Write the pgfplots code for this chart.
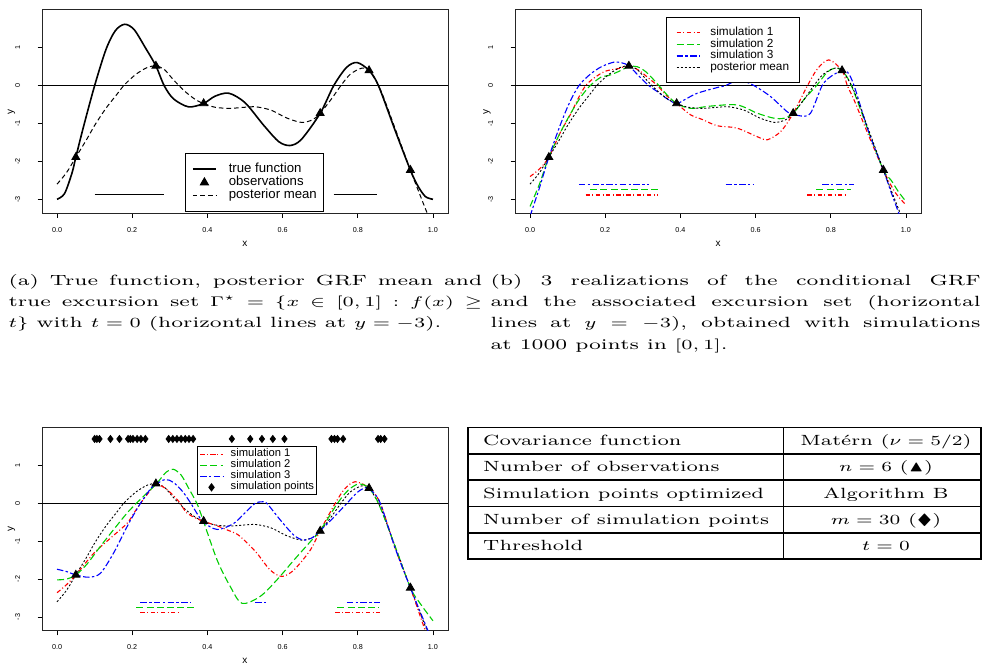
\documentclass[border=0pt]{standalone}
\usepackage{pgfplots}
\pgfplotsset{compat=1.18}
\usepackage{pgfplotstable}
\usepackage{amssymb}
\usepackage{graphicx}
\usepackage{fontspec}
\newfontfamily\rfont{Liberation Sans}
\definecolor{rred}{HTML}{FF0000}
\definecolor{rgreen}{HTML}{00CD00}
\definecolor{rblue}{HTML}{0000FF}

% shared series
\pgfplotstableread{
x y
0 -3.0
0.02 -2.85
0.04 -2.3
0.05 -1.89
0.07 -1.1
0.1 0.0
0.13 0.95
0.155 1.45
0.18 1.62
0.205 1.48
0.235 1.0
0.263 0.52
0.285 0.0
0.31 -0.35
0.35 -0.56
0.39 -0.47
0.42 -0.28
0.457 -0.2
0.5 -0.45
0.55 -1.05
0.59 -1.48
0.62 -1.58
0.65 -1.42
0.7 -0.73
0.736 0.0
0.77 0.48
0.798 0.61
0.83 0.4
0.855 0.0
0.9 -1.2
0.94 -2.23
0.96 -2.65
0.98 -2.93
1.0 -3.0
}\truetab

\pgfplotstableread{
x y
0 -2.6
0.025 -2.3
0.05 -1.89
0.08 -1.4
0.1 -1.05
0.13 -0.6
0.16 -0.22
0.18 0.03
0.21 0.3
0.24 0.48
0.263 0.52
0.285 0.43
0.31 0.15
0.34 -0.15
0.37 -0.38
0.39 -0.47
0.42 -0.57
0.46 -0.6
0.5 -0.57
0.53 -0.56
0.57 -0.65
0.61 -0.85
0.65 -0.97
0.68 -0.9
0.7 -0.73
0.73 -0.35
0.755 0.0
0.78 0.3
0.81 0.46
0.83 0.4
0.86 -0.1
0.9 -1.15
0.94 -2.23
0.97 -3.0
1.0 -3.75
}\meantab

\pgfplotstableread{
x y
0.05 -1.89
0.263 0.52
0.39 -0.47
0.70 -0.73
0.83 0.40
0.94 -2.23
}\obstab

\pgfplotsset{
  rplot/.style={
    scale only axis, width=203pt, height=101.7pt,
    xmin=-0.04, xmax=1.04, ymin=-3.37, ymax=2.0,
    axis line style={black!85, line width=0.5pt},
    xtick={0,0.2,0.4,0.6,0.8,1}, xticklabels={0.0,0.2,0.4,0.6,0.8,1.0},
    ytick={-3,-2,-1,0,1}, yticklabels={-3,-2,-1,0,1},
    xtick pos=bottom, ytick pos=left, tick align=outside,
    major tick length=2.2pt, tick style={black, line width=0.4pt},
    xticklabel style={font=\rfont\fontsize{3.6}{4}\selectfont, anchor=center, yshift=-6pt},
    yticklabel style={font=\rfont\fontsize{3.6}{4}\selectfont, rotate=90, anchor=south, inner sep=0pt},
    yticklabel shift=8.5pt,
    xlabel={x}, ylabel={y},
    label style={font=\rfont\fontsize{5}{6}\selectfont},
    xlabel style={at={(axis description cs:0.5,-0.148)}, anchor=center},
    ylabel style={at={(axis description cs:-0.075,0.5)}, anchor=center},
    legend cell align=left,
    unbounded coords=jump,
  },
  sim1/.style={rred, line width=0.55pt, dash pattern=on 2.2pt off 1.2pt on 0.5pt off 1.2pt},
  sim2/.style={rgreen, line width=0.55pt, dash pattern=on 3.5pt off 1.6pt},
  sim3/.style={rblue, line width=0.55pt, dash pattern=on 3.2pt off 1.2pt on 1.2pt off 1.2pt},
  pmean/.style={black, line width=0.45pt, dash pattern=on 1pt off 1pt},
}

\begin{document}
\begin{tikzpicture}
\path[use as bounding box] (0pt,0pt) rectangle (491pt,332pt);

% ---------- panel (a)
\begin{axis}[rplot, at={(21pt,225.35pt)}, anchor=south west,
  legend image code/.code={\draw[mark repeat=2,mark phase=2,#1] plot coordinates {(0pt,0pt) (5.8pt,0pt) (11.6pt,0pt)}; \path (17.6pt,0pt);},
  legend style={at={(axis description cs:0.352,0.297)}, anchor=north west, draw=black, fill=white, line width=0.5pt,
    inner xsep=3.3pt, inner ysep=4.6pt, row sep=0pt,
    nodes={inner sep=0pt, text height=4.9pt, text depth=1.75pt},
    font=\rfont\fontsize{6.6}{7}\selectfont}]
\addplot[black, line width=0.5pt, forget plot] coordinates {(-0.04,0) (1.04,0)};
\addplot[black, line width=0.8pt, forget plot] coordinates {(0.1,-2.876) (0.285,-2.876) (0.5,nan) (0.736,-2.876) (0.851,-2.876)};
\addplot[black, line width=0.8pt, smooth, forget plot] table {\truetab};
\addplot[black, line width=0.5pt, dash pattern=on 2.3pt off 1.5pt, smooth, forget plot] table {\meantab};
\addplot[black, only marks, mark=triangle*, mark size=2.3pt, forget plot] table {\obstab};
\addlegendimage{black, line width=0.8pt}
\addlegendentry{true function}
\addlegendimage{black, only marks, mark=triangle*, mark size=2.3pt}
\addlegendentry{observations}
\addlegendimage{black, line width=0.5pt, dash pattern=on 2.3pt off 1.5pt}
\addlegendentry{posterior mean}
\end{axis}

% ---------- panel (b)
\begin{axis}[rplot, at={(257.5pt,225.35pt)}, anchor=south west,
  ylabel style={at={(axis description cs:-0.069,0.5)}},
  legend image code/.code={\draw[mark repeat=2,mark phase=2,#1] plot coordinates {(0pt,0pt) (5.8pt,0pt) (11.6pt,0pt)}; \path (16.6pt,0pt);},
  legend style={at={(axis description cs:0.371,0.964)}, anchor=north west, draw=black, fill=white, line width=0.5pt,
    inner xsep=5pt, inner ysep=4.5pt, row sep=0pt,
    nodes={inner sep=0pt, text height=4.3pt, text depth=1.55pt},
    font=\rfont\fontsize{5.9}{6}\selectfont}]
\addplot[black, line width=0.5pt, forget plot] coordinates {(-0.04,0) (1.04,0)};
\addplot[sim3, line width=0.6pt, forget plot] coordinates {(0.13,-2.62) (0.316,-2.62) (0.42,nan) (0.52,-2.62) (0.596,-2.62) (0.7,nan) (0.777,-2.62) (0.862,-2.62)};
\addplot[sim2, line width=0.6pt, forget plot] coordinates {(0.16,-2.75) (0.343,-2.75) (0.5,nan) (0.762,-2.75) (0.855,-2.75)};
\addplot[sim1, line width=0.6pt, forget plot] coordinates {(0.148,-2.885) (0.339,-2.885) (0.5,nan) (0.738,-2.885) (0.844,-2.885)};
\addplot[sim1, smooth] coordinates {
(0,-2.4) (0.025,-2.2) (0.05,-1.89) (0.08,-1.25) (0.108,-0.75) (0.13,-0.3) (0.148,0) (0.17,0.2)
(0.2,0.38) (0.235,0.45) (0.263,0.52) (0.29,0.4) (0.315,0.2) (0.339,0) (0.365,-0.28) (0.39,-0.47)
(0.427,-0.77) (0.46,-0.9) (0.498,-1.06) (0.55,-1.12) (0.605,-1.35) (0.631,-1.43) (0.667,-1.21)
(0.7,-0.73) (0.738,0) (0.765,0.45) (0.795,0.68) (0.83,0.4) (0.844,0) (0.862,-0.38) (0.9,-1.3)
(0.94,-2.23) (0.97,-2.8) (1.0,-3.15)};
\addlegendentry{simulation 1}
\addplot[sim2, smooth] coordinates {
(0,-3.19) (0.025,-2.6) (0.05,-1.89) (0.08,-1.25) (0.11,-0.7) (0.135,-0.3) (0.16,0) (0.188,0.22)
(0.21,0.27) (0.235,0.37) (0.263,0.5) (0.285,0.5) (0.31,0.35) (0.343,0) (0.365,-0.25) (0.39,-0.47)
(0.427,-0.6) (0.48,-0.54) (0.551,-0.51) (0.605,-0.73) (0.649,-0.86) (0.676,-0.86) (0.7,-0.73)
(0.73,-0.35) (0.762,0) (0.79,0.35) (0.81,0.46) (0.83,0.4) (0.855,0) (0.9,-1.2) (0.94,-2.23)
(0.96,-2.49) (0.98,-2.8) (1.0,-3.06)};
\addlegendentry{simulation 2}
\addplot[sim3, smooth] coordinates {
(0,-3.45) (0.025,-2.7) (0.05,-1.89) (0.08,-1.05) (0.105,-0.45) (0.13,0) (0.16,0.3) (0.19,0.5)
(0.223,0.62) (0.245,0.6) (0.263,0.52) (0.29,0.25) (0.316,0) (0.339,-0.16) (0.365,-0.35) (0.39,-0.47)
(0.415,-0.35) (0.445,-0.2) (0.498,-0.05) (0.52,0) (0.556,0.15) (0.596,0) (0.64,-0.29) (0.684,-0.69)
(0.7,-0.75) (0.72,-0.8) (0.746,-0.73) (0.777,0) (0.8,0.24) (0.83,0.4) (0.845,0.35) (0.862,0)
(0.9,-1.2) (0.94,-2.23) (0.96,-2.8) (0.981,-3.37) (1.0,-3.9)};
\addlegendentry{simulation 3}
\addplot[pmean, smooth] table {\meantab};
\addlegendentry{posterior mean}
\addplot[black, only marks, mark=triangle*, mark size=2.3pt, forget plot] table {\obstab};
\end{axis}

% ---------- panel (c)
\begin{axis}[rplot, at={(21pt,16.5pt)}, anchor=south west,
  legend image code/.code={\draw[mark repeat=2,mark phase=2,#1] plot coordinates {(0pt,0pt) (5.7pt,0pt) (11.4pt,0pt)}; \path (15pt,0pt);},
  legend style={at={(axis description cs:0.381,0.908)}, anchor=north west, draw=black, fill=white, line width=0.5pt,
    inner xsep=1.2pt, inner ysep=1pt, row sep=0pt,
    nodes={inner sep=0pt, text height=4.1pt, text depth=1.4pt},
    font=\rfont\fontsize{5.6}{6}\selectfont}]
\addplot[black, line width=0.5pt, forget plot] coordinates {(-0.04,0) (1.04,0)};
\addplot[sim3, line width=0.6pt, forget plot] coordinates {(0.222,-2.62) (0.356,-2.62) (0.44,nan) (0.527,-2.62) (0.558,-2.62) (0.65,nan) (0.771,-2.62) (0.86,-2.62)};
\addplot[sim2, line width=0.6pt, forget plot] coordinates {(0.211,-2.75) (0.372,-2.75) (0.5,nan) (0.746,-2.75) (0.855,-2.75)};
\addplot[sim1, line width=0.6pt, forget plot] coordinates {(0.222,-2.88) (0.328,-2.88) (0.5,nan) (0.74,-2.88) (0.86,-2.88)};
\addplot[pmean, smooth, forget plot] table {\meantab};
\addplot[sim1, smooth] coordinates {
(0,-2.36) (0.025,-2.15) (0.05,-1.89) (0.0975,-1.32) (0.142,-0.92) (0.186,-0.53) (0.205,-0.25)
(0.222,0) (0.245,0.3) (0.264,0.51) (0.29,0.38) (0.31,0.2) (0.328,0) (0.346,-0.26) (0.387,-0.47)
(0.42,-0.57) (0.452,-0.7) (0.48,-0.82) (0.505,-1.04) (0.532,-1.32) (0.567,-1.76) (0.598,-1.93)
(0.63,-1.76) (0.674,-1.23) (0.7,-0.72) (0.74,0) (0.765,0.38) (0.793,0.57) (0.829,0.41) (0.86,0)
(0.9,-1.2) (0.94,-2.23) (0.98,-3.37) (1.0,-3.8)};
\addlegendentry{simulation 1}
\addplot[sim2, smooth] coordinates {
(0,-2.02) (0.025,-2.0) (0.05,-1.89) (0.08,-1.6) (0.115,-1.14) (0.15,-0.7) (0.186,-0.26) (0.211,0)
(0.24,0.28) (0.264,0.51) (0.29,0.82) (0.309,0.9) (0.33,0.75) (0.35,0.4) (0.372,0) (0.387,-0.4)
(0.426,-1.5) (0.461,-2.2) (0.492,-2.64) (0.54,-2.46) (0.585,-2.02) (0.63,-1.5) (0.674,-1.01)
(0.7,-0.72) (0.746,0) (0.775,0.35) (0.802,0.51) (0.829,0.41) (0.855,0) (0.9,-1.15) (0.94,-2.23)
(0.97,-2.7) (1.0,-3.1)};
\addlegendentry{simulation 2}
\addplot[sim3, smooth] coordinates {
(0,-1.74) (0.025,-1.8) (0.05,-1.89) (0.084,-1.95) (0.115,-1.85) (0.15,-1.32) (0.186,-0.62)
(0.205,-0.28) (0.222,0) (0.25,0.4) (0.264,0.51) (0.288,0.63) (0.31,0.55) (0.335,0.3) (0.356,0)
(0.387,-0.47) (0.426,-0.69) (0.47,-0.53) (0.5,-0.25) (0.527,0) (0.545,0.04) (0.558,0) (0.594,-0.44)
(0.63,-0.84) (0.656,-0.97) (0.68,-0.9) (0.7,-0.72) (0.735,-0.38) (0.771,0) (0.8,0.3) (0.824,0.42)
(0.84,0.3) (0.86,0) (0.9,-1.2) (0.94,-2.23) (0.987,-3.37) (1.0,-3.7)};
\addlegendentry{simulation 3}
\addplot[black, only marks, mark=diamond*, mark size=1.75pt] coordinates {
(0.100,1.7) (0.106,1.7) (0.113,1.7) (0.142,1.7) (0.166,1.7) (0.189,1.7) (0.195,1.7) (0.202,1.7)
(0.213,1.7) (0.223,1.7) (0.235,1.7) (0.297,1.7) (0.308,1.7) (0.319,1.7) (0.330,1.7) (0.341,1.7)
(0.351,1.7) (0.362,1.7) (0.465,1.7) (0.514,1.7) (0.545,1.7) (0.574,1.7) (0.605,1.7) (0.730,1.7)
(0.738,1.7) (0.746,1.7) (0.761,1.7) (0.854,1.7) (0.861,1.7) (0.871,1.7)};
\addlegendentry{simulation points}
\addplot[black, only marks, mark=triangle*, mark size=2.3pt, forget plot] table {\obstab};
\end{axis}

% ---------- captions
\node[anchor=base west, inner sep=0pt, xscale=1.41] at (4pt,189.35pt)
  {\fontsize{7.4}{10.65}\selectfont\hyphenpenalty=10000\parbox[t]{168pt}{(a) True function, posterior GRF mean and\linebreak
   true excursion set $\Gamma^\star=\{x\in[0,1]:f(x)\geq$\linebreak
   $t\}$ with $t=0$ (horizontal lines at $y=-3$).}};
\node[anchor=base west, inner sep=0pt, xscale=1.41] at (245pt,189.35pt)
  {\fontsize{7.4}{10.65}\selectfont\hyphenpenalty=10000\parbox[t]{173.8pt}{(b) 3 realizations of the conditional GRF\linebreak
   and the associated excursion set (horizontal\linebreak
   lines at $y=-3$), obtained with simulations\linebreak
   at 1000 points in $[0,1]$.}};

% ---------- parameter table
\draw[line width=0.8pt] (234pt,52.48pt) rectangle (490.5pt,118.15pt);
\draw[line width=0.8pt] (391.65pt,52.48pt) -- (391.65pt,118.15pt);
\foreach \yy in {105.02,91.88,78.75,65.61}
  \draw[line width=0.8pt] (234pt,\yy pt) -- (490.5pt,\yy pt);
\begin{scope}[every node/.style={inner sep=0pt, xscale=1.35, font=\fontsize{7.4}{9}\selectfont}]
\node[anchor=base west] at (241.35pt,109.15pt) {Covariance function};
\node[anchor=base west] at (241.35pt,96.02pt) {Number of observations};
\node[anchor=base west] at (241.35pt,82.88pt) {Simulation points optimized};
\node[anchor=base west] at (241.35pt,69.75pt) {Number of simulation points};
\node[anchor=base west] at (241.35pt,56.61pt) {Threshold};
\node[anchor=base] at (443pt,109.15pt) {Matérn ($\nu = 5/2$)};
\node[anchor=base] at (443pt,96.02pt) {$n = 6$ ($\blacktriangle$)};
\node[anchor=base] at (443pt,82.88pt) {Algorithm B};
\node[anchor=base] at (443pt,69.75pt) {$m = 30$ ($\blacklozenge$)};
\node[anchor=base] at (443pt,56.61pt) {$t = 0$};
\end{scope}
\end{tikzpicture}
\end{document}
